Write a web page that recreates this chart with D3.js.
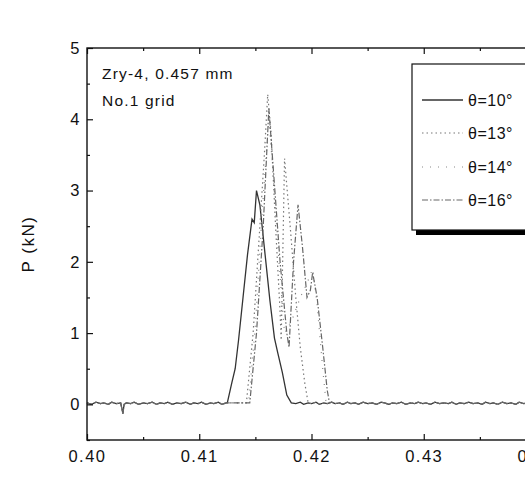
<!DOCTYPE html>
<html>
<head>
<meta charset="utf-8">
<script src="https://cdn.jsdelivr.net/npm/d3@7"></script>
<style>
  body { margin: 0; background: #fff; overflow: hidden; }
  text { font-family: "Liberation Sans", Arial, sans-serif; fill: #111; }
</style>
</head>
<body>
<div id="chart-area"></div>
<script>
const W = 525, H = 482;
const margin = { left: 87, top: 48 };
const plotW = 449, plotH = 392;

const baseX = [0.4000, 0.4004, 0.4008, 0.4012, 0.4015, 0.4019, 0.4022, 0.4026, 0.4030, 0.4032, 0.4033, 0.4035,
  0.4039, 0.4042, 0.4046, 0.4050, 0.4054, 0.4058, 0.4062, 0.4065, 0.4069, 0.4072, 0.4076, 0.4080, 0.4084,
  0.4088, 0.4092, 0.4095, 0.4099, 0.4102, 0.4106, 0.4110, 0.4113, 0.4117, 0.4120, 0.4124,
  0.4186, 0.4190, 0.4193, 0.4197, 0.4200, 0.4204, 0.4207, 0.4211, 0.4214, 0.4218, 0.4221, 0.4225, 0.4228,
  0.4232, 0.4235, 0.4239, 0.4242, 0.4246, 0.4250, 0.4254, 0.4258, 0.4262, 0.4265, 0.4269, 0.4272, 0.4276,
  0.4280, 0.4284, 0.4288, 0.4292, 0.4295, 0.4299, 0.4302, 0.4306, 0.4310, 0.4314, 0.4318, 0.4322, 0.4325,
  0.4329, 0.4332, 0.4336, 0.4340, 0.4344, 0.4348, 0.4352, 0.4355, 0.4359, 0.4362, 0.4366, 0.4370, 0.4374,
  0.4378, 0.4382, 0.4385, 0.4389, 0.4392, 0.4396, 0.4400];
const baseP = [0.02, 0.00, 0.03, 0.01, 0.02, 0.00, 0.03, 0.01, 0.02, -0.13, 0.00, 0.02,
  0.01, 0.03, 0.00, 0.02, 0.01, 0.03, 0.00, 0.02, 0.01, 0.03, 0.00, 0.02, 0.01,
  0.03, 0.00, 0.02, 0.01, 0.03, 0.00, 0.02, 0.01, 0.03, 0.00, 0.02,
  0.01, 0.03, 0.00, 0.02, 0.01, 0.03, 0.00, 0.02, 0.01, 0.03, 0.01, 0.02, 0.00,
  0.03, 0.01, 0.02, 0.00, 0.03, 0.01, 0.02, 0.00, 0.03, 0.02, 0.00, 0.02, 0.01,
  0.03, 0.00, 0.02, 0.01, 0.03, 0.01, 0.02, 0.00, 0.03, 0.01, 0.02, 0.01, 0.03,
  0.00, 0.02, 0.01, 0.03, 0.01, 0.02, 0.00, 0.03, 0.01, 0.02, 0.00, 0.03, 0.01,
  0.02, 0.00, 0.03, 0.01, 0.02, 0.00, 0.01];

// θ=10°
const x10 = [0.4125, 0.4129, 0.4132, 0.4135, 0.4139, 0.4143, 0.4147, 0.4149, 0.4151, 0.4154, 0.4158,
  0.4163, 0.4167, 0.4170, 0.4174, 0.4178, 0.4182];
const p10 = [0.02, 0.30, 0.50, 0.90, 1.50, 2.10, 2.60, 2.55, 3.00, 2.80, 2.20,
  1.45, 0.93, 0.72, 0.45, 0.13, 0.02];
// θ=13°
const x13 = [0.4142, 0.4148, 0.4154, 0.4158, 0.4161, 0.4164, 0.4168, 0.4172, 0.4173, 0.4175, 0.4176,
  0.4181, 0.4186, 0.4190, 0.4194, 0.4197];
const p13 = [0.02, 1.00, 2.50, 3.50, 4.35, 3.80, 2.50, 1.30, 0.90, 2.60, 3.45,
  2.50, 1.50, 0.80, 0.30, 0.02];
// θ=14°
const x14 = [0.4144, 0.4150, 0.4156, 0.4162, 0.4166, 0.4171, 0.4176, 0.4183, 0.4190, 0.4196, 0.4201,
  0.4205, 0.4210, 0.4213];
const p14 = [0.02, 1.10, 2.70, 4.00, 3.20, 2.00, 1.00, 1.20, 1.50, 1.70, 1.90,
  1.40, 0.50, 0.02];
// θ=16°
const x16 = [0.4145, 0.4151, 0.4157, 0.4162, 0.4166, 0.4172, 0.4178, 0.4180, 0.4184, 0.4188, 0.4192,
  0.4196, 0.4199, 0.4201, 0.4205, 0.4210, 0.4214, 0.4216];
const p16 = [0.02, 1.00, 2.50, 4.15, 3.30, 2.00, 1.00, 0.80, 2.00, 2.80, 2.20,
  1.50, 1.60, 1.85, 1.50, 0.80, 0.20, 0.02];

const seriesNames = ["θ=10°", "θ=13°", "θ=14°", "θ=16°"];
const seriesX = [x10, x13, x14, x16];
const seriesP = [p10, p13, p14, p16];
const dashes = [null, "1.5,3", "1,7", "6,2,1.5,2"];
const strokes = ["#333", "#777", "#888", "#666"];
const widths = [1.3, 1.2, 1.2, 1.2];

const xTicks = [0.40, 0.41, 0.42, 0.43, 0.44];
const yTicks = [0, 1, 2, 3, 4, 5];

const svg = d3.select("#chart-area")
    .append("svg")
    .attr("width", W)
    .attr("height", H);

const x = d3.scaleLinear().domain([0.40, 0.44]).range([margin.left, margin.left + plotW]);
const y = d3.scaleLinear().domain([-0.5, 5]).range([margin.top + plotH, margin.top]);

// traces: baseline outside the peak, measured points inside it
const line = d3.line().x(d => x(d[0])).y(d => y(d[1]));
const traces = seriesX.map((xs, i) => {
    const lo = xs[0], hi = xs[xs.length - 1];
    const pts = [];
    baseX.forEach((bx, j) => { if (bx < lo) pts.push([bx, baseP[j]]); });
    xs.forEach((v, j) => pts.push([v, seriesP[i][j]]));
    baseX.forEach((bx, j) => { if (bx > hi) pts.push([bx, baseP[j]]); });
    return pts;
});

svg.append("g").selectAll("path")
    .data(traces)
    .enter()
    .append("path")
    .attr("d", line)
    .attr("fill", "none")
    .attr("stroke", (d, i) => strokes[i])
    .attr("stroke-width", (d, i) => widths[i])
    .attr("stroke-dasharray", (d, i) => dashes[i]);

// axes with inward ticks
svg.append("g")
    .attr("transform", `translate(0, ${margin.top + plotH})`)
    .call(d3.axisBottom(x).tickValues(xTicks).tickSize(-6).tickPadding(10).tickFormat(d3.format(".2f")));
svg.append("g")
    .attr("transform", `translate(0, ${margin.top + plotH})`)
    .call(d3.axisBottom(x).tickValues([0.405, 0.415, 0.425, 0.435]).tickSize(-3).tickFormat(""));
svg.append("g")
    .attr("transform", `translate(0, ${margin.top})`)
    .call(d3.axisTop(x).tickValues(xTicks).tickSize(-6).tickFormat(""));
svg.append("g")
    .attr("transform", `translate(0, ${margin.top})`)
    .call(d3.axisTop(x).tickValues([0.405, 0.415, 0.425, 0.435]).tickSize(-3).tickFormat(""));
svg.append("g")
    .attr("transform", `translate(${margin.left}, 0)`)
    .call(d3.axisLeft(y).tickValues(yTicks).tickSize(-6).tickPadding(6).tickFormat(d3.format("d")));
svg.append("g")
    .attr("transform", `translate(${margin.left}, 0)`)
    .call(d3.axisLeft(y).tickValues([-0.5, 0.5, 1.5, 2.5, 3.5, 4.5]).tickSize(-3).tickFormat(""));

svg.selectAll(".domain").remove();
svg.selectAll(".tick line").attr("stroke", "#111").attr("stroke-width", 1.2);
svg.selectAll(".tick text")
    .attr("font-size", "16.5px")
    .attr("letter-spacing", "1.5px")
    .attr("font-family", "Liberation Sans, Arial, sans-serif")
    .attr("fill", "#111");

svg.append("rect")
    .attr("x", margin.left)
    .attr("y", margin.top)
    .attr("width", plotW)
    .attr("height", plotH)
    .attr("fill", "none")
    .attr("stroke", "#111")
    .attr("stroke-width", 1.4);

// axis label
svg.append("text")
    .attr("transform", `translate(34, ${margin.top + plotH / 2}) rotate(-90)`)
    .attr("text-anchor", "middle")
    .attr("font-size", "17px")
    .attr("letter-spacing", "1.5px")
    .text("P (kN)");

// annotation
svg.append("text")
    .attr("x", 102).attr("y", 79)
    .attr("font-size", "15.5px")
    .attr("letter-spacing", "1.2px")
    .text("Zry-4, 0.457 mm");
svg.append("text")
    .attr("x", 102).attr("y", 106)
    .attr("font-size", "15.5px")
    .attr("letter-spacing", "1.2px")
    .text("No.1 grid");

// legend with drop shadow
const legend = svg.append("g");
legend.append("rect")
    .attr("x", 416).attr("y", 69)
    .attr("width", 130).attr("height", 166)
    .attr("fill", "#000");
legend.append("rect")
    .attr("x", 412).attr("y", 64)
    .attr("width", 130).attr("height", 166)
    .attr("fill", "#fff")
    .attr("stroke", "#111")
    .attr("stroke-width", 1.2);

const rowY = [100, 133, 167, 200];
const rows = legend.selectAll(".row")
    .data(seriesNames)
    .enter()
    .append("g")
    .attr("transform", (d, i) => `translate(0, ${rowY[i]})`);
rows.append("line")
    .attr("x1", 422).attr("x2", 463)
    .attr("stroke", (d, i) => strokes[i])
    .attr("stroke-width", (d, i) => widths[i])
    .attr("stroke-dasharray", (d, i) => dashes[i]);
rows.append("text")
    .attr("x", 468).attr("y", 6)
    .attr("font-size", "16px")
    .attr("letter-spacing", "0.5px")
    .text(d => d);
</script>
</body>
</html>
